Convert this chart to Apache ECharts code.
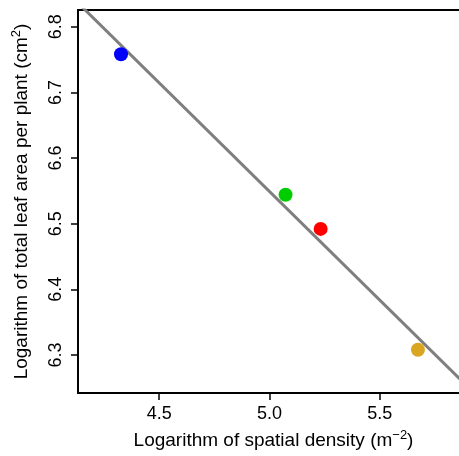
<!DOCTYPE html>
<html><head><meta charset="utf-8">
<script src="https://cdn.jsdelivr.net/npm/echarts@6/dist/echarts.min.js"></script>
<style>html,body{margin:0;padding:0;background:#fff}#c{width:459px;height:456px}</style>
</head><body><div id="c"></div>
<script>
const pointX = [4.327, 5.073, 5.232, 5.673];
const pointY = [6.758, 6.544, 6.492, 6.308];
const pointColors = ['#0000FF', '#00CD00', '#FF0000', '#DAA520'];
const fitX = [4.0, 6.0];
const fitY = [6.880, 6.218];
const xTicks = [4.5, 5.0, 5.5];
const yTicks = [6.3, 6.4, 6.5, 6.6, 6.7, 6.8];

const font = 'Liberation Sans, Arial, sans-serif';
const chart = echarts.init(document.getElementById('c'), null, {renderer: 'canvas'});
chart.setOption({
  animation: false,
  grid: {left: 78, top: 10, right: -10, bottom: 63, show: true, borderColor: '#000', borderWidth: 1.8,
    containLabel: false, outerBoundsMode: 'none'},
  xAxis: {
    type: 'value', min: 4.132, max: 5.9045, interval: 0.5,
    splitLine: {show: false},
    axisLine: {show: true, onZero: false, lineStyle: {color: '#000', width: 1.8}},
    axisTick: {show: true, length: 7, lineStyle: {color: '#000', width: 1.5},
      customValues: xTicks},
    axisLabel: {customValues: xTicks, color: '#000', fontSize: 18, fontFamily: font, margin: 12,
      formatter: v => v.toFixed(1)},
    name: '{a|Logarithm of spatial density (m}{s|\u22122}{a|)}',
    nameLocation: 'middle', nameGap: 36,
    nameTextStyle: {rich: {
      a: {fontSize: 19, fontFamily: font, color: '#000'},
      s: {fontSize: 13, fontFamily: font, color: '#000', padding: [0, 0, 10, 0]}
    }}
  },
  yAxis: {
    type: 'value', min: 6.242, max: 6.8255,
    splitLine: {show: false},
    axisLine: {show: true, onZero: false, lineStyle: {color: '#000', width: 1.8}},
    axisTick: {show: true, length: 7, lineStyle: {color: '#000', width: 1.5}, customValues: yTicks},
    axisLabel: {customValues: yTicks, rotate: 90, color: '#000', fontSize: 18, fontFamily: font, margin: 13,
      formatter: v => v.toFixed(1)},
    name: '{a|Logarithm of total leaf area per plant (cm}{s|2}{a|)}',
    nameLocation: 'middle', nameGap: 45, nameRotate: 90,
    nameTextStyle: {rich: {
      a: {fontSize: 19, fontFamily: font, color: '#000'},
      s: {fontSize: 13, fontFamily: font, color: '#000', padding: [0, 0, 10, 0]}
    }}
  },
  series: [
    {type: 'line', data: fitX.map((x, i) => [x, fitY[i]]), showSymbol: false, clip: true,
      lineStyle: {color: '#7f7f7f', width: 3}, z: 1},
    {type: 'scatter', symbolSize: 14, z: 2, itemStyle: {opacity: 1},
      data: pointX.map((x, i) => ({value: [x, pointY[i]], itemStyle: {color: pointColors[i], opacity: 1}}))}
  ]
});
</script></body></html>
